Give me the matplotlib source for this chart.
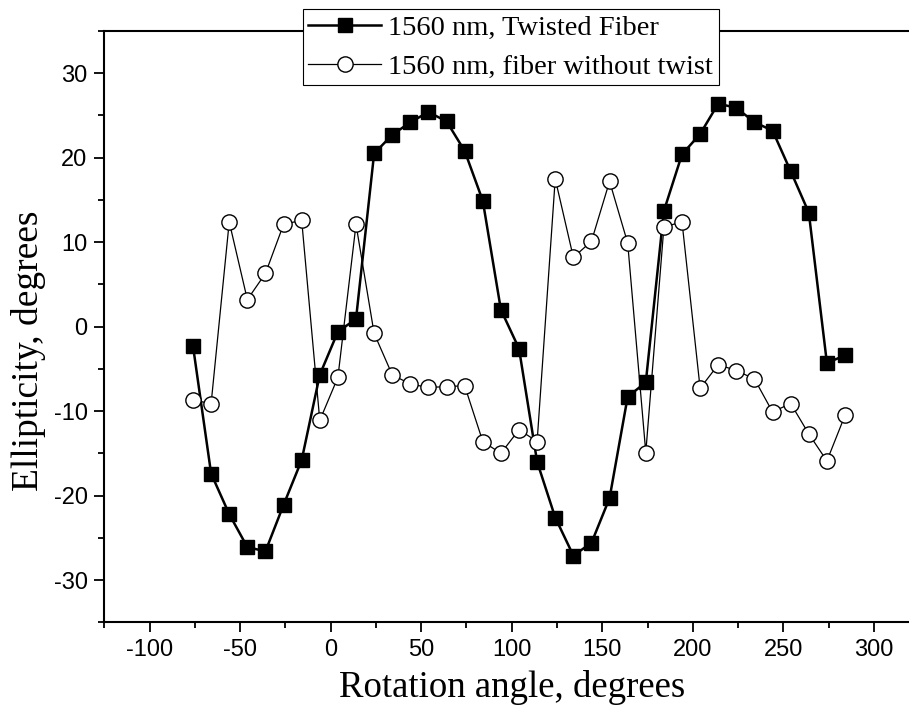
import matplotlib.pyplot as plt
import numpy as np

plt.rcParams['axes.unicode_minus'] = False

# rotation angles, degrees
angle = [-76, -66, -56, -46, -36, -26, -16, -6, 4, 14, 24, 34, 44, 54, 64, 74,
         84, 94, 104, 114, 124, 134, 144, 154, 164, 174, 184, 194, 204, 214,
         224, 234, 244, 254, 264, 274, 284]

# ellipticity, degrees
twisted = [-2.3, -17.4, -22.2, -26.1, -26.6, -21.1, -15.8, -5.7, -0.6, 0.9,
           20.5, 22.7, 24.2, 25.4, 24.3, 20.8, 14.9, 2.0, -2.6, -16.0,
           -22.6, -27.1, -25.6, -20.3, -8.3, -6.6, 13.7, 20.4, 22.8, 26.4,
           25.9, 24.2, 23.2, 18.4, 13.5, -4.3, -3.4]
no_twist = [-8.7, -9.1, 12.4, 3.2, 6.3, 12.1, 12.6, -11.1, -6.0, 12.1,
            -0.8, -5.7, -6.8, -7.2, -7.1, -7.0, -13.6, -15.0, -12.2, -13.6,
            17.5, 8.2, 10.1, 17.2, 9.9, -14.9, 11.8, 12.4, -7.3, -4.5,
            -5.2, -6.2, -10.1, -9.1, -12.7, -15.9, -10.5]

labels = ['1560 nm, Twisted Fiber', '1560 nm, fiber without twist']

fig = plt.figure(figsize=(9.09, 7.09), dpi=100)
ax = fig.add_axes([0.1147, 0.1223, 0.8966, 0.834])

ax.plot(angle, twisted, color='black', lw=1.8, marker='s', ms=10,
        mfc='black', mec='black', label=labels[0])
ax.plot(angle, no_twist, color='black', lw=0.9, marker='o', ms=11,
        mfc='white', mec='black', mew=1.0, label=labels[1])

ax.set_xlim(-125, 325)
ax.set_ylim(-35, 35)
ax.set_xticks(np.arange(-100, 301, 50))
ax.set_xticks(np.arange(-125, 326, 25), minor=True)
ax.set_yticks(np.arange(-30, 31, 10))
ax.set_yticks(np.arange(-35, 36, 5), minor=True)

for s in ['left', 'bottom', 'top']:
    ax.spines[s].set_linewidth(1.5)
ax.spines['right'].set_visible(False)

ax.tick_params(which='major', direction='out', length=7, width=1.3,
               labelsize=17, pad=5)
ax.tick_params(which='minor', direction='out', length=4, width=1.3)
for t in ax.get_xticklabels() + ax.get_yticklabels():
    t.set_fontfamily('Liberation Sans')

ax.set_xlabel('Rotation angle, degrees', fontsize=26.5, family='Liberation Serif')
ax.set_ylabel('Ellipticity, degrees', fontsize=27, family='Liberation Serif')
ax.xaxis.set_label_coords(0.5, -0.08)
ax.yaxis.set_label_coords(-0.072, 0.46)

leg = fig.legend(loc='upper left', bbox_to_anchor=(0.333, 0.987),
                 borderaxespad=0, fancybox=False, framealpha=1,
                 edgecolor='black', handlelength=2.55, handletextpad=0.25,
                 labelspacing=0.45, borderpad=0.2,
                 prop={'family': 'Liberation Serif', 'size': 20.5})
leg.get_frame().set_linewidth(0.8)

fig.savefig('out.png', dpi=100)
